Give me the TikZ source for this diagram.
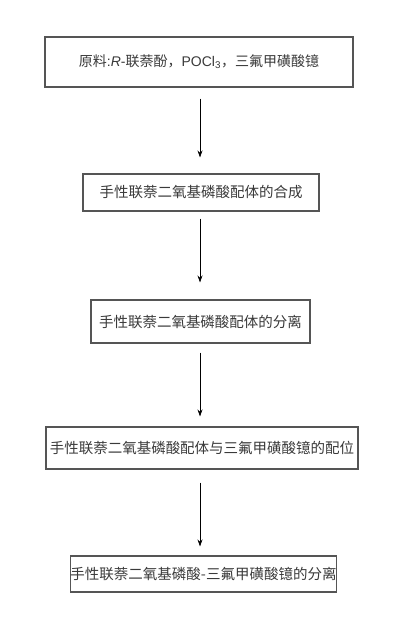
\documentclass[tikz,border=0pt]{standalone}
\usepackage{fontspec}
\setmainfont{Liberation Sans}
\newfontfamily\cjk{Noto Sans CJK SC}
\usetikzlibrary{arrows.meta}
\definecolor{boxline}{HTML}{555555}
\definecolor{txt}{HTML}{3A3A3A}
\tikzset{
  stepbox/.style={draw=boxline, line width=1.1pt, inner sep=0pt, text=txt,
    font=\cjk\fontsize{14.5}{16}\selectfont, anchor=center},
  flow/.style={draw=black, line width=0.8pt, -{Stealth[length=7pt,width=5pt]}}
}
\begin{document}
\begin{tikzpicture}[x=1pt,y=1pt]
\useasboundingbox (0,0) rectangle (408,-635);
\fill[white] (0,0) rectangle (408,-635);
\coordinate (ax) at (200,0);
\node[stepbox, minimum width=308, minimum height=50, font=\fontsize{14}{16}\selectfont] (B1) at (199,-62)
  {{\cjk 原料}:\textit{R}-{\cjk 联萘酚，}POCl\textsubscript{3}{\cjk ，三氟甲磺酸镱}};
\node[stepbox, minimum width=236, minimum height=37] (B2) at (201,-192.5) {手性联萘二氧基磷酸配体的合成};
\node[stepbox, minimum width=219, minimum height=43] (B3) at (200.5,-321.5) {手性联萘二氧基磷酸配体的分离};
\node[stepbox, minimum width=312, minimum height=42] (B4) at (202,-448) {手性联萘二氧基磷酸配体与三氟甲磺酸镱的配位};
\node[stepbox, minimum width=265, minimum height=36] (B5) at (203.5,-574) {手性联萘二氧基磷酸-三氟甲磺酸镱的分离};
\draw[flow, shorten <=11pt, shorten >=16pt] (B1.south -| ax) -- (B2.north -| ax);
\draw[flow, shorten <=7pt, shorten >=17pt] (B2.south -| ax) -- (B3.north -| ax);
\draw[flow, shorten <=9pt, shorten >=10pt] (B3.south -| ax) -- (B4.north -| ax);
\draw[flow, shorten <=13pt, shorten >=9pt] (B4.south -| ax) -- (B5.north -| ax);
\end{tikzpicture}
\end{document}
